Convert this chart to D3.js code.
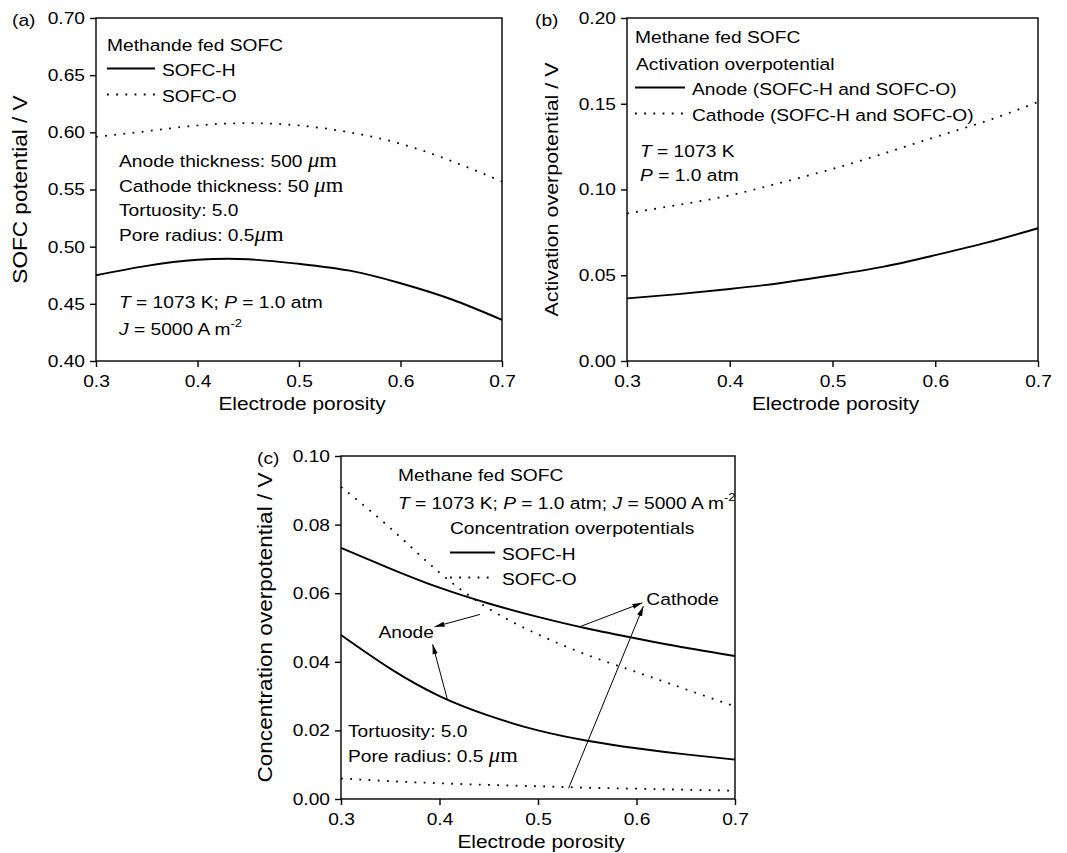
<!DOCTYPE html>
<html>
<head>
<meta charset="utf-8">
<script src="https://cdn.jsdelivr.net/npm/d3@7"></script>
<style>
body { margin: 0; background: #fff; }
text { font-family: "Liberation Sans", Arial, sans-serif; fill: #000; }
</style>
</head>
<body>
<div id="chart"></div>
<script>
// porosity grid shared by all three panels
var porosity = [0.3, 0.35, 0.4, 0.45, 0.5, 0.55, 0.6, 0.65, 0.7];
var xTicks = [0.3, 0.4, 0.5, 0.6, 0.7];

// (a) SOFC potential
var potentialH = [0.475, 0.4832, 0.4885, 0.489, 0.485, 0.479, 0.468, 0.454, 0.436];
var potentialO = [0.596, 0.601, 0.606, 0.608, 0.606, 0.600, 0.590, 0.575, 0.557];
var ticksA = [0.40, 0.45, 0.50, 0.55, 0.60, 0.65, 0.70];

// (b) activation overpotential
var actAnode   = [0.0365, 0.039, 0.042, 0.0455, 0.050, 0.055, 0.0617, 0.069, 0.0774];
var actCathode = [0.086, 0.091, 0.0966, 0.104, 0.112, 0.121, 0.1306, 0.140, 0.151];
var ticksB = [0.00, 0.05, 0.10, 0.15, 0.20];

// (c) concentration overpotential
var concCathodeH = [0.0732, 0.0672, 0.0616, 0.057, 0.0531, 0.0497, 0.0468, 0.0441, 0.0417];
var concAnodeH   = [0.0478, 0.0380, 0.0300, 0.0243, 0.0200, 0.0170, 0.0148, 0.0130, 0.0115];
var concAnodeO   = [0.091, 0.079, 0.066, 0.0555, 0.048, 0.042, 0.037, 0.032, 0.027];
var concCathodeO = [0.006, 0.0052, 0.0046, 0.0041, 0.0037, 0.0033, 0.003, 0.0027, 0.0024];
var ticksC = [0.00, 0.02, 0.04, 0.06, 0.08, 0.10];

// annotation anchors for (c), in data units
var anodeNote   = [0.338, 0.0468];
var anodeArrows = [[[0.441, 0.0538], [0.395, 0.0502]], [[0.408, 0.029], [0.393, 0.0451]]];
var cathodeNote   = [0.610, 0.0565];
var cathodeArrows = [[[0.544, 0.0504], [0.606, 0.0572]], [[0.531, 0.0031], [0.607, 0.0562]]];

var W = 1067, H = 853;
var sx = 1.13;            // glyphs in the figure are wider than Arial
var fs = 17;
var serif = "'Liberation Serif', 'Times New Roman', serif";
var dots = "1.8,7.4";

var svg = d3.select("#chart").append("svg")
	.attr("width", W)
	.attr("height", H);
svg.append("rect").attr("width", W).attr("height", H).attr("fill", "#fff");

svg.append("defs").append("marker")
	.attr("id", "head")
	.attr("viewBox", "0 -3 10 6")
	.attr("refX", 10)
	.attr("refY", 0)
	.attr("markerUnits", "userSpaceOnUse")
	.attr("markerWidth", 10)
	.attr("markerHeight", 6)
	.attr("orient", "auto")
	.append("path")
	.attr("d", "M0,-2.6L10,0L0,2.6Z")
	.attr("fill", "#000");

// text with optional italic / serif / superscript pieces
function addText(g, x, y, pieces, opt) {
	opt = opt || {};
	var size = opt.size || fs;
	var t = g.append("text")
		.attr("transform", "translate(" + x + "," + y + ")" + (opt.rot ? " rotate(" + opt.rot + ")" : "") + " scale(" + sx + ",1)")
		.attr("font-size", size)
		.attr("text-anchor", opt.anchor || "start");
	if (typeof pieces === "string") pieces = [{t: pieces}];
	pieces.forEach(function(p) {
		var s = t.append("tspan").text(p.t);
		if (p.i) s.attr("font-style", "italic");
		if (p.serif) s.attr("font-family", serif).attr("font-size", size + 3);
		if (p.sup) s.attr("font-size", 11.5).attr("dy", -8);
	});
	return t;
}

function mu(pre, space) {
	return [{t: pre + (space ? " " : "")}, {t: "\u03bc", i: 1, serif: 1}, {t: "m", serif: 1}];
}

function drawPanel(p) {
	var g = svg.append("g");
	var x = d3.scaleLinear().domain([0.3, 0.7]).range([p.left, p.right]);
	var y = d3.scaleLinear().domain(p.yDomain).range([p.bottom, p.top]);

	var ya = g.append("g")
		.attr("transform", "translate(" + p.left + ",0)")
		.call(d3.axisLeft(y).tickValues(p.yTicks).tickSize(6).tickPadding(3.7).tickFormat(d3.format(p.fmt)));
	var xa = g.append("g")
		.attr("transform", "translate(0," + p.bottom + ")")
		.call(d3.axisBottom(x).tickValues(xTicks).tickSize(6).tickPadding(7.9).tickFormat(d3.format(".1f")));
	[ya, xa].forEach(function(a) {
		a.select(".domain").remove();
		a.selectAll("line").attr("stroke", "#000").attr("stroke-width", 1.4);
		a.selectAll("text").attr("font-size", fs).attr("fill", "#000")
			.attr("font-family", "'Liberation Sans', Arial, sans-serif")
			.attr("transform", "scale(" + sx + ",1)");
	});

	g.append("rect")
		.attr("x", p.left).attr("y", p.top)
		.attr("width", p.right - p.left).attr("height", p.bottom - p.top)
		.attr("fill", "none").attr("stroke", "#000").attr("stroke-width", 1.4);

	var line = d3.line()
		.x(function(d, i) { return x(porosity[i]); })
		.y(function(d) { return y(d); })
		.curve(d3.curveNatural);

	p.series.forEach(function(s) {
		g.append("path")
			.datum(s.values)
			.attr("d", line)
			.attr("fill", "none")
			.attr("stroke", "#000")
			.attr("stroke-width", s.dotted ? 1.8 : 1.9)
			.attr("stroke-dasharray", s.dotted ? dots : null);
	});

	addText(g, (p.left + p.right) / 2 + 3, p.bottom + 49, "Electrode porosity", {size: 18.5, anchor: "middle"});
	addText(g, p.left - 69, (p.top + p.bottom) / 2, p.yTitle, {size: p.yTitleSize, anchor: "middle", rot: -90});
	addText(g, p.left - p.tagDx, p.top + 8, p.tag);

	p.legend.forEach(function(l) {
		g.append("line")
			.attr("x1", p.left + l.dx).attr("x2", p.left + l.dx + l.len)
			.attr("y1", p.top + l.dy).attr("y2", p.top + l.dy)
			.attr("stroke", "#000").attr("stroke-width", 1.8)
			.attr("stroke-dasharray", l.dotted ? dots : null);
		addText(g, p.left + l.dx + l.len + 7, p.top + l.dy + 7, l.text);
	});
	p.notes.forEach(function(n) {
		addText(g, p.left + n.dx, p.top + n.dy, n.text);
	});
	return {g: g, x: x, y: y};
}

drawPanel({
	left: 96, right: 502, top: 18, bottom: 361,
	yDomain: [0.40, 0.70], yTicks: ticksA, fmt: ".2f",
	yTitle: "SOFC potential / V", yTitleSize: 20, tag: "(a)", tagDx: 84,
	series: [{values: potentialH}, {values: potentialO, dotted: true}],
	legend: [
		{dx: 11, dy: 50.5, len: 48, text: "SOFC-H"},
		{dx: 11, dy: 76.5, len: 48, text: "SOFC-O", dotted: true}
	],
	notes: [
		{dx: 11, dy: 33, text: "Methande fed SOFC"},
		{dx: 23, dy: 149, text: mu("Anode thickness: 500", true)},
		{dx: 23, dy: 174, text: mu("Cathode thickness: 50", true)},
		{dx: 23, dy: 198, text: "Tortuosity: 5.0"},
		{dx: 23, dy: 223, text: mu("Pore radius: 0.5", false)},
		{dx: 23, dy: 290, text: [{t: "T", i: 1}, {t: " = 1073 K; "}, {t: "P", i: 1}, {t: " = 1.0 atm"}]},
		{dx: 23, dy: 317, text: [{t: "J", i: 1}, {t: " = 5000 A m"}, {t: "-2", sup: 1}]}
	]
});

drawPanel({
	left: 627, right: 1038, top: 18, bottom: 361,
	yDomain: [0, 0.20], yTicks: ticksB, fmt: ".2f",
	yTitle: "Activation overpotential / V", yTitleSize: 19, tag: "(b)", tagDx: 92,
	series: [{values: actAnode}, {values: actCathode, dotted: true}],
	legend: [
		{dx: 8, dy: 69.5, len: 50, text: "Anode (SOFC-H and SOFC-O)"},
		{dx: 8, dy: 95.5, len: 50, text: "Cathode (SOFC-H and SOFC-O)", dotted: true}
	],
	notes: [
		{dx: 8, dy: 25, text: "Methane fed SOFC"},
		{dx: 9, dy: 52, text: "Activation overpotential"},
		{dx: 13, dy: 139, text: [{t: "T", i: 1}, {t: " = 1073 K"}]},
		{dx: 13, dy: 163, text: [{t: "P", i: 1}, {t: " = 1.0 atm"}]}
	]
});

var pc = drawPanel({
	left: 341, right: 735, top: 456, bottom: 799,
	yDomain: [0, 0.10], yTicks: ticksC, fmt: ".2f",
	yTitle: "Concentration overpotential / V", yTitleSize: 20, tag: "(c)", tagDx: 84,
	series: [
		{values: concCathodeH}, {values: concAnodeH},
		{values: concAnodeO, dotted: true}, {values: concCathodeO, dotted: true}
	],
	legend: [
		{dx: 109, dy: 96.5, len: 45, text: "SOFC-H"},
		{dx: 109, dy: 121.5, len: 45, text: "SOFC-O", dotted: true}
	],
	notes: [
		{dx: 57, dy: 25, text: "Methane fed SOFC"},
		{dx: 57, dy: 53, text: [{t: "T", i: 1}, {t: " = 1073 K; "}, {t: "P", i: 1}, {t: " = 1.0 atm; "}, {t: "J", i: 1}, {t: " = 5000 A m"}, {t: "-2", sup: 1}]},
		{dx: 109, dy: 78, text: "Concentration overpotentials"},
		{dx: 7, dy: 281, text: "Tortuosity: 5.0"},
		{dx: 7, dy: 306, text: mu("Pore radius: 0.5", true)}
	]
});

// Anode / Cathode call-outs in (c)
addText(pc.g, pc.x(anodeNote[0]), pc.y(anodeNote[1]), "Anode");
addText(pc.g, pc.x(cathodeNote[0]), pc.y(cathodeNote[1]), "Cathode");
anodeArrows.concat(cathodeArrows).forEach(function(a) {
	pc.g.append("line")
		.attr("x1", pc.x(a[0][0])).attr("y1", pc.y(a[0][1]))
		.attr("x2", pc.x(a[1][0])).attr("y2", pc.y(a[1][1]))
		.attr("stroke", "#000").attr("stroke-width", 1)
		.attr("marker-end", "url(#head)");
});
</script>
</body>
</html>
